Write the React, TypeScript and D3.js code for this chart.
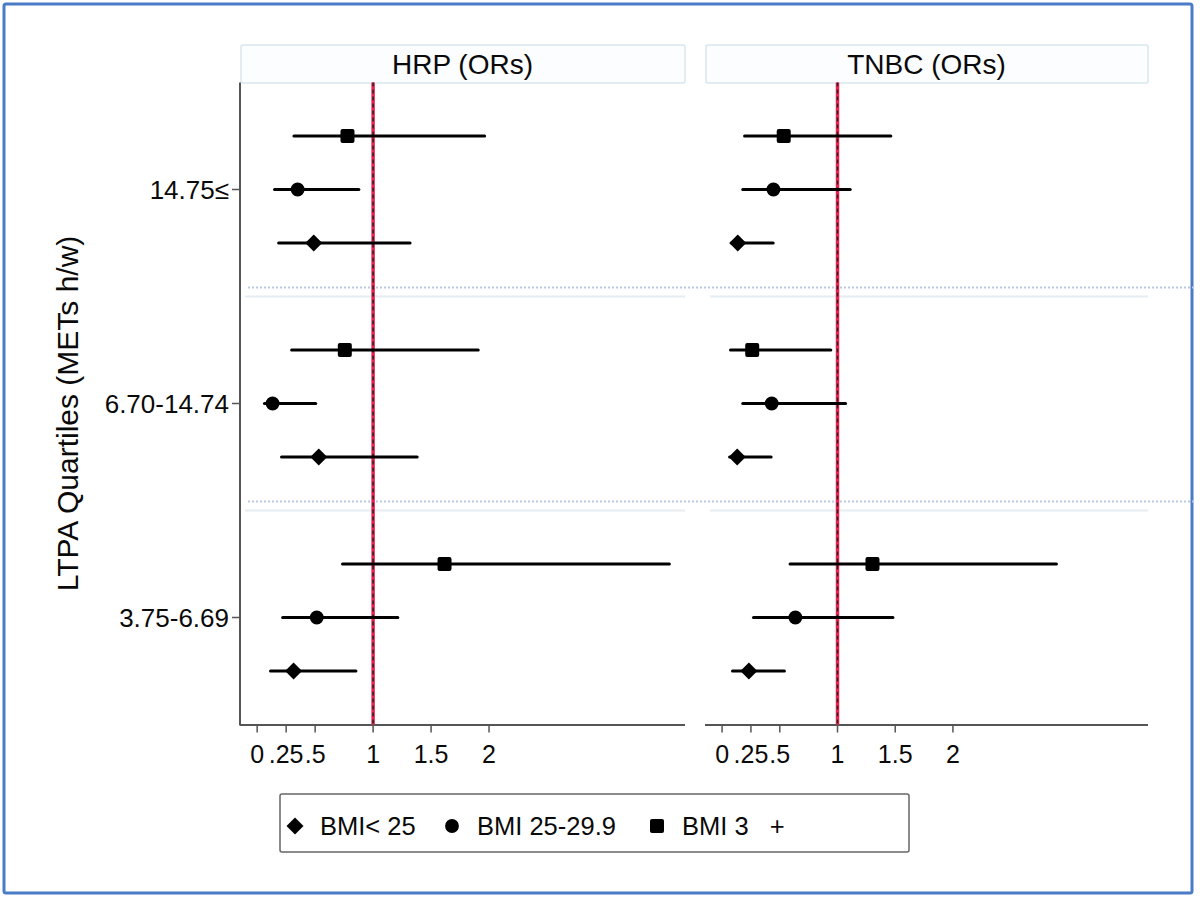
import React from "react";
import * as d3 from "d3";

const categories = ["14.75≤", "6.70-14.74", "3.75-6.69"];
const panelTitles = ["HRP (ORs)", "TNBC (ORs)"];
const groupLabels = ["BMI< 25", "BMI 25-29.9", "BMI 3   +"];
const groupShapes = ["diamond", "circle", "square"];
const xTickValues = [0, 0.25, 0.5, 1, 1.5, 2];
const xTickLabels = ["0", ".25", ".5", "1", "1.5", "2"];
const yTitle = "LTPA Quartiles (METs h/w)";

// HRP
const hrpDiamondEst = [0.488, 0.531, 0.314];
const hrpDiamondLo = [0.185, 0.21, 0.115];
const hrpDiamondHi = [1.319, 1.38, 0.852];
const hrpCircleEst = [0.349, 0.133, 0.514];
const hrpCircleLo = [0.15, 0.063, 0.22];
const hrpCircleHi = [0.877, 0.505, 1.213];
const hrpSquareEst = [0.779, 0.756, 1.616];
const hrpSquareLo = [0.317, 0.297, 0.736];
const hrpSquareHi = [1.962, 1.907, 3.555];
// TNBC
const tnbcDiamondEst = [0.136, 0.131, 0.232];
const tnbcDiamondLo = [0.08, 0.065, 0.09];
const tnbcDiamondHi = [0.443, 0.425, 0.54];
const tnbcCircleEst = [0.445, 0.43, 0.635];
const tnbcCircleLo = [0.179, 0.179, 0.272];
const tnbcCircleHi = [1.11, 1.07, 1.48];
const tnbcSquareEst = [0.534, 0.261, 1.303];
const tnbcSquareLo = [0.195, 0.073, 0.589];
const tnbcSquareHi = [1.462, 0.942, 2.897];

const panelsData = [
  [
    { est: hrpDiamondEst, lo: hrpDiamondLo, hi: hrpDiamondHi },
    { est: hrpCircleEst, lo: hrpCircleLo, hi: hrpCircleHi },
    { est: hrpSquareEst, lo: hrpSquareLo, hi: hrpSquareHi },
  ],
  [
    { est: tnbcDiamondEst, lo: tnbcDiamondLo, hi: tnbcDiamondHi },
    { est: tnbcCircleEst, lo: tnbcCircleLo, hi: tnbcCircleHi },
    { est: tnbcSquareEst, lo: tnbcSquareLo, hi: tnbcSquareHi },
  ],
];

const FONT = "'Liberation Sans', Arial, Helvetica, sans-serif";
const X_DOMAIN: [number, number] = [-0.148, 3.69];
const panelRanges: [number, number][] = [
  [240, 685],
  [705, 1148],
];
const PLOT_TOP = 82.5;
const PLOT_BOTTOM = 724.5;

const yScale = d3.scaleLinear().domain([0, 12]).range([PLOT_TOP, PLOT_BOTTOM]);
const rowIndex = (cat: number, g: number) => cat * 4 + 1 + (2 - g);

function Marker({ shape, x, y }: { shape: string; x: number; y: number }) {
  if (shape === "square") {
    return <rect x={x - 7} y={y - 7} width={14} height={14} rx={2} fill="#000" />;
  }
  if (shape === "diamond") {
    return <path d={`M${x},${y - 8.5}L${x + 8.5},${y}L${x},${y + 8.5}L${x - 8.5},${y}Z`} fill="#000" />;
  }
  const sym = d3.symbol().type(d3.symbolCircle).size(150);
  return <path d={sym() || ""} transform={`translate(${x},${y})`} fill="#000" />;
}

function Panel({ p }: { p: number }) {
  const [r0, r1] = panelRanges[p];
  const x = d3.scaleLinear().domain(X_DOMAIN).range([r0, r1]);
  const data = panelsData[p];
  const x1 = x(1);
  return (
    <g>
      <rect x={r0 + 1} y={45} width={r1 - r0 - 1} height={38} fill="#fbfdfe" stroke="#d9e7ee" strokeWidth={1.5} rx={2} />
      <text x={(r0 + r1) / 2} y={74} textAnchor="middle" fontFamily={FONT} fontSize={28} fill="#0a0a0a">
        {panelTitles[p]}
      </text>
      {[4, 8].map((k) => (
        <line key={k} x1={r0 + 5} x2={r1} y1={yScale(k)} y2={yScale(k)} stroke="#e6eef3" strokeWidth={2} />
      ))}
      <line x1={r0} x2={r1} y1={PLOT_BOTTOM + 0.5} y2={PLOT_BOTTOM + 0.5} stroke="#555" strokeWidth={2} />
      {xTickValues.map((v, i) => (
        <g key={i}>
          <line x1={x(v)} x2={x(v)} y1={PLOT_BOTTOM} y2={PLOT_BOTTOM + 8} stroke="#555" strokeWidth={1.5} />
          <text x={x(v)} y={763} textAnchor="middle" fontFamily={FONT} fontSize={25} fill="#0a0a0a">
            {xTickLabels[i]}
          </text>
        </g>
      ))}
      <line x1={x1} x2={x1} y1={PLOT_TOP} y2={PLOT_BOTTOM} stroke="#e8264f" strokeWidth={3.5} />
      <line x1={x1} x2={x1} y1={PLOT_TOP} y2={PLOT_BOTTOM} stroke="#3a1a22" strokeWidth={1.5} strokeDasharray="4,3" />
      {data.map((s, g) =>
        categories.map((_, c) => {
          const y = yScale(rowIndex(c, g));
          return (
            <g key={`${g}-${c}`}>
              <line x1={x(s.lo[c])} x2={x(s.hi[c])} y1={y} y2={y} stroke="#000" strokeWidth={3} strokeLinecap="round" />
              <Marker shape={groupShapes[g]} x={x(s.est[c])} y={y} />
            </g>
          );
        })
      )}
    </g>
  );
}

export default function App() {
  const legendItems = groupLabels.map((l, i) => ({ label: l, shape: groupShapes[i] }));
  const legendX = [295, 452, 657];
  return (
    <svg
      width={1200}
      height={900}
      style={{ position: "absolute", left: 0, top: 0, background: "#fff" }}
      xmlns="http://www.w3.org/2000/svg"
    >
      <rect x={0} y={0} width={1200} height={900} fill="#fff" />
      <rect x={4} y={4} width={1188} height={889} fill="none" stroke="#4a7bc6" strokeWidth={3} rx={2} />
      {[4, 8].map((k) => (
        <line key={k} x1={248} x2={1195} y1={yScale(k) - 9} y2={yScale(k) - 9} stroke="#b9c9e6" strokeWidth={2} strokeDasharray="2,2" />
      ))}
      <Panel p={0} />
      <Panel p={1} />
      <line x1={240} x2={240} y1={PLOT_TOP} y2={PLOT_BOTTOM + 1} stroke="#555" strokeWidth={2} />
      {categories.map((c, i) => {
        const y = yScale(i * 4 + 2);
        return (
          <g key={c}>
            <line x1={232} x2={240} y1={y} y2={y} stroke="#555" strokeWidth={1.5} />
            <text x={229} y={y + 9} textAnchor="end" fontFamily={FONT} fontSize={26} fill="#0a0a0a">
              {c}
            </text>
          </g>
        );
      })}
      <text
        transform={`translate(78,${(PLOT_TOP + PLOT_BOTTOM) / 2 + 10}) rotate(-90)`}
        textAnchor="middle"
        fontFamily={FONT}
        fontSize={30}
        fill="#0a0a0a"
      >
        {yTitle}
      </text>
      <rect x={280} y={794} width={629} height={58} fill="#fff" stroke="#666" strokeWidth={1.5} rx={2} />
      {legendItems.map((it, i) => (
        <g key={i}>
          <Marker shape={it.shape} x={legendX[i]} y={826} />
          <text x={legendX[i] + 25} y={835} fontFamily={FONT} fontSize={25.5} fill="#0a0a0a" style={{ whiteSpace: "pre" }}>
            {it.label}
          </text>
        </g>
      ))}
    </svg>
  );
}
